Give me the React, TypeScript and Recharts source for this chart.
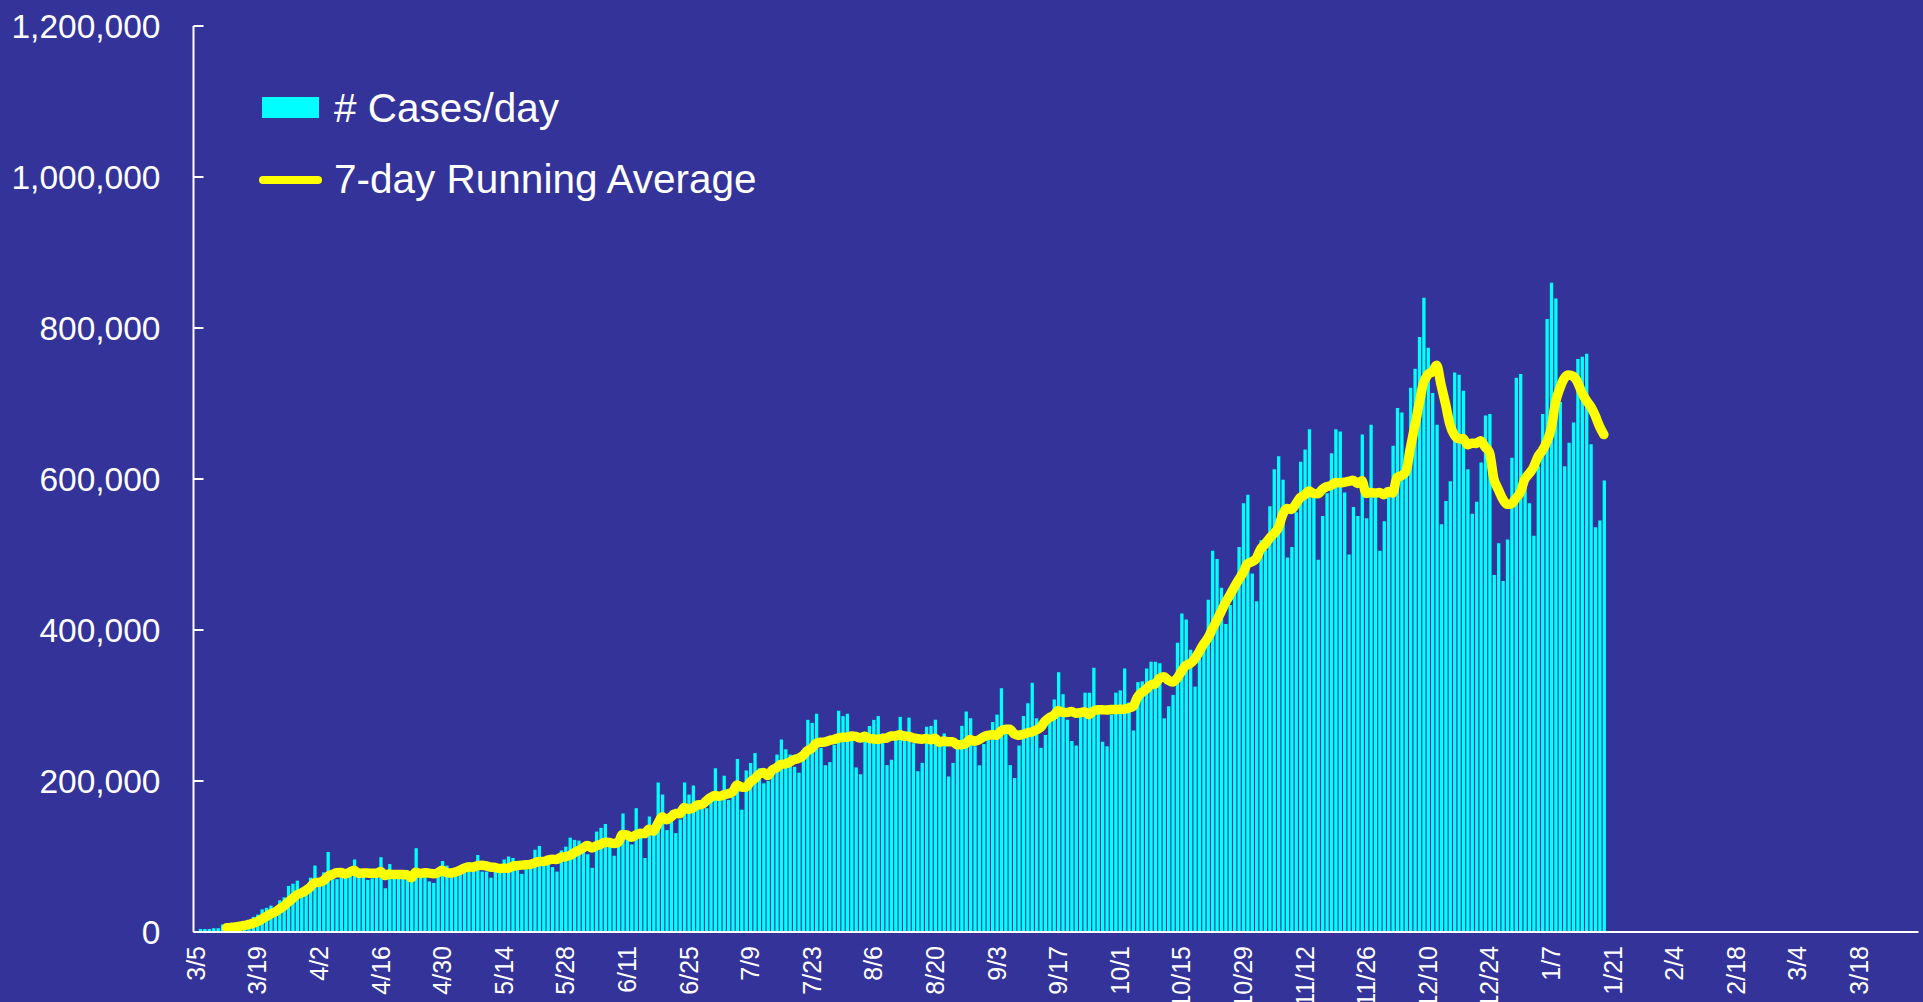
import React from 'react';
import { ComposedChart, Bar, Line, XAxis, YAxis } from 'recharts';

// Daily new cases (thousands), one value per day from 3/6/2020 to 1/19/2021
const dailyCases = [
  4, 4, 4, 5, 5, 10, 7, 8, 8, 10,
  12, 15, 20, 23, 30, 32, 35, 30, 42, 46,
  61, 64, 68, 50, 54, 72, 88, 64, 79, 106,
  70, 70, 74, 74, 82, 96, 76, 76, 69, 71,
  74, 99, 58, 90, 71, 71, 71, 71, 70, 111,
  78, 78, 67, 65, 80, 94, 88, 76, 85, 84,
  84, 92, 92, 102, 80, 80, 72, 80, 82, 96,
  100, 98, 87, 77, 83, 86, 109, 114, 97, 100,
  86, 80, 108, 113, 125, 122, 121, 110, 103, 85,
  133, 138, 143, 118, 101, 113, 157, 130, 116, 164,
  134, 98, 153, 140, 198, 182, 135, 161, 131, 149,
  198, 182, 194, 164, 163, 164, 181, 217, 175, 207,
  175, 179, 229, 162, 214, 224, 237, 217, 197, 200,
  213, 235, 255, 242, 235, 219, 211, 238, 281, 277,
  289, 244, 221, 225, 248, 293, 286, 289, 255, 218,
  209, 265, 273, 281, 286, 263, 221, 228, 266, 285,
  266, 284, 250, 213, 224, 272, 273, 281, 246, 263,
  206, 224, 244, 273, 292, 283, 246, 221, 249, 259,
  278, 288, 323, 263, 221, 204, 247, 286, 303, 330,
  283, 244, 261, 281, 308, 344, 315, 281, 253, 247,
  285, 317, 317, 350, 292, 252, 246, 288, 317, 320,
  349, 304, 267, 331, 332, 349, 358, 358, 356, 283,
  299, 314, 383, 422, 414, 374, 325, 363, 386, 440,
  505, 494, 456, 408, 433, 460, 510, 568, 579, 475,
  438, 519, 506, 564, 613, 630, 599, 496, 510, 556,
  623, 639, 666, 576, 493, 551, 581, 634, 666, 663,
  582, 500, 563, 551, 659, 548, 672, 576, 505, 544,
  580, 644, 694, 688, 611, 721, 746, 788, 840, 774,
  714, 672, 540, 571, 597, 741, 738, 717, 613, 554,
  570, 622, 684, 686, 473, 515, 465, 520, 628, 734,
  739, 594, 568, 525, 617, 686, 812, 860, 839, 702,
  617, 648, 675, 759, 762, 766, 646, 536, 545, 598,
];

// 7-day running average (thousands), from 3/12/2020
const runningAvg = [
  5.6, 6.1, 6.7, 7.6, 8.6, 10.0, 11.4, 13.7, 16.9, 20.3,
  23.9, 26.4, 30.3, 34.0, 39.4, 44.3, 49.4, 51.6, 55.0, 59.3,
  65.3, 65.7, 67.9, 73.3, 76.1, 78.4, 78.7, 76.7, 79.3, 81.7,
  77.4, 78.3, 78.1, 77.7, 77.7, 80.1, 74.7, 76.7, 76.0, 76.3,
  76.3, 75.9, 71.7, 79.3, 77.6, 78.6, 78.0, 77.1, 78.4, 81.9,
  78.6, 78.3, 79.3, 81.7, 84.4, 86.1, 85.9, 87.9, 88.4, 87.7,
  86.0, 85.4, 84.0, 84.6, 84.3, 86.9, 87.9, 88.6, 89.0, 89.6,
  91.4, 93.4, 93.3, 95.1, 96.4, 96.0, 99.1, 99.7, 101.3, 104.9,
  107.9, 111.3, 114.6, 111.3, 114.1, 116.0, 119.0, 118.6, 117.3, 118.7,
  129.0, 128.6, 125.4, 128.4, 130.7, 130.3, 136.0, 133.6, 143.3, 152.7,
  148.6, 152.4, 157.1, 156.6, 164.9, 162.6, 164.3, 168.4, 168.7, 173.4,
  178.0, 180.7, 179.7, 181.6, 183.1, 185.4, 194.7, 192.0, 191.6, 198.6,
  202.9, 208.9, 211.4, 207.3, 214.6, 217.6, 222.0, 222.7, 225.3, 228.4,
  230.0, 233.6, 240.1, 243.3, 250.0, 251.3, 251.6, 253.6, 255.0, 256.7,
  258.0, 258.0, 259.6, 259.1, 256.9, 259.3, 256.4, 255.7, 255.3, 256.4,
  256.9, 259.6, 259.7, 261.4, 259.3, 259.0, 257.1, 256.0, 255.4, 256.3,
  254.6, 256.7, 251.3, 253.1, 252.1, 252.1, 248.1, 248.1, 249.7, 255.0,
  252.6, 254.7, 258.3, 260.4, 261.1, 260.6, 266.3, 268.7, 268.7, 262.3,
  260.6, 261.7, 263.9, 264.9, 267.7, 271.0, 279.1, 284.0, 287.1, 293.0,
  290.9, 290.6, 291.9, 289.9, 290.4, 291.7, 287.9, 292.9, 294.4, 294.3,
  294.1, 294.6, 294.6, 295.0, 294.9, 296.6, 298.7, 310.9, 317.1, 321.7,
  327.1, 328.4, 335.9, 338.1, 333.6, 331.0, 335.9, 345.0, 353.0, 355.6,
  361.6, 370.7, 381.0, 389.1, 401.0, 412.4, 424.1, 436.0, 446.0, 456.6,
  466.6, 475.6, 487.7, 490.4, 494.7, 507.0, 513.6, 521.3, 527.7, 535.0,
  552.7, 561.0, 559.7, 566.9, 575.3, 579.0, 584.1, 580.9, 580.4, 586.3,
  589.9, 591.4, 595.3, 594.9, 595.7, 596.7, 598.4, 594.1, 597.7, 580.9,
  582.1, 581.3, 582.0, 579.3, 583.4, 581.3, 602.1, 604.4, 609.4, 640.3,
  669.1, 698.9, 726.9, 738.3, 742.0, 750.7, 724.9, 699.9, 672.6, 658.4,
  653.3, 653.7, 645.3, 647.3, 647.1, 650.7, 642.6, 635.1, 600.3, 586.3,
  573.6, 566.4, 567.3, 574.4, 582.0, 599.3, 606.9, 615.4, 629.3, 637.6,
  648.7, 666.0, 701.0, 720.1, 733.3, 737.7, 736.1, 728.6, 714.6, 704.1,
  696.1, 684.6, 669.9, 658.9,
];

const yTicks = [0, 200000, 400000, 600000, 800000, 1000000, 1200000];

// axis runs one category per day, 3/5/2020 .. 3/31/2021
const dayCount = 392;
const casesStart = 1; // first bar is 3/6
const avgStart = 7; // line starts 3/12

const dates: string[] = [];
for (let k = 0; k < dayCount; k++) {
  const d = new Date(2020, 2, 5 + k);
  dates.push(`${d.getMonth() + 1}/${d.getDate()}`);
}

const rows = dates.map((date, k) => {
  const c = dailyCases[k - casesStart];
  const a = runningAvg[k - avgStart];
  return {
    date,
    cases: c !== undefined ? c * 1000 : null,
    avg: a !== undefined ? a * 1000 : null,
  };
});

const BG = '#333399';
const FONT = '"Liberation Sans", Arial, sans-serif';

const YTick = (props: any) => {
  const { x, y, payload } = props;
  return (
    <g>
      <line x1={x} y1={y} x2={x + 10} y2={y} stroke="#fff" strokeWidth={2} />
      <text x={x - 33} y={y} dy="0.36em" textAnchor="end" fill="#fff" fontSize={33.5} fontFamily={FONT}>
        {Number(payload.value).toLocaleString('en-US')}
      </text>
    </g>
  );
};

const XTick = (props: any) => {
  const { x, y, payload } = props;
  return (
    <text
      transform={`translate(${x},${y + 14}) rotate(-90)`}
      textAnchor="end"
      dy="0.36em"
      fill="#fff"
      fontSize={25}
      fontFamily={FONT}
    >
      {payload.value}
    </text>
  );
};

export default function App() {
  return (
    <div style={{ position: 'absolute', left: 0, top: 0, width: 1923, height: 1002, background: BG, overflow: 'hidden' }}>
      <ComposedChart
        width={1923}
        height={1002}
        data={rows}
        margin={{ top: 26, right: 4.5, bottom: 0, left: 0 }}
        barCategoryGap={0}
      >
        <XAxis
          dataKey="date"
          interval={13}
          height={70}
          tickLine={false}
          tickSize={0}
          tickMargin={0}
          axisLine={{ stroke: '#fff', strokeWidth: 2 }}
          tick={<XTick />}
        />
        <YAxis
          type="number"
          domain={[0, 1200000]}
          ticks={yTicks}
          width={193.5}
          tickLine={false}
          tickSize={0}
          tickMargin={0}
          axisLine={{ stroke: '#fff', strokeWidth: 2 }}
          tick={<YTick />}
        />
        <Bar dataKey="cases" fill="#00FFFF" barSize={3.3} isAnimationActive={false} />
        <Line
          dataKey="avg"
          type="monotone"
          stroke="#FFFF00"
          strokeWidth={9.5}
          strokeLinecap="round"
          strokeLinejoin="round"
          dot={false}
          activeDot={false}
          isAnimationActive={false}
        />
      </ComposedChart>

      {/* legend */}
      <div style={{ position: 'absolute', left: 262, top: 97, width: 57, height: 21, background: '#00FFFF' }} />
      <div style={{ position: 'absolute', left: 334, top: 88, fontSize: 40.5, lineHeight: '40px', color: '#fff', fontFamily: FONT, whiteSpace: 'nowrap' }}>
        # Cases/day
      </div>
      <svg style={{ position: 'absolute', left: 255, top: 170 }} width={75} height={20}>
        <line x1={8} y1={10} x2={63} y2={10} stroke="#FFFF00" strokeWidth={8} strokeLinecap="round" />
      </svg>
      <div style={{ position: 'absolute', left: 334, top: 159, fontSize: 40.5, lineHeight: '40px', color: '#fff', fontFamily: FONT, whiteSpace: 'nowrap' }}>
        7-day Running Average
      </div>
    </div>
  );
}
